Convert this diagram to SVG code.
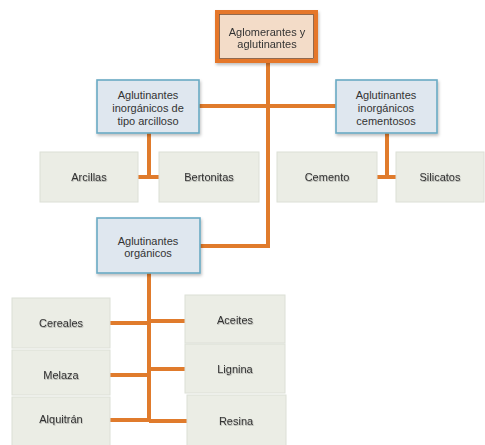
<svg xmlns="http://www.w3.org/2000/svg" width="485" height="445" viewBox="0 0 485 445">
  <defs>
    <filter id="shadow" x="-20%" y="-20%" width="140%" height="150%">
      <feDropShadow dx="1" dy="2" stdDeviation="1.5" flood-color="#000" flood-opacity="0.25"/>
    </filter>
    <filter id="textShadow" x="-10%" y="-30%" width="120%" height="160%">
      <feDropShadow dx="0.6" dy="1" stdDeviation="0.6" flood-color="#000" flood-opacity="0.25"/>
    </filter>
  </defs>
  <style>
    .conn { stroke: #e07b2c; stroke-width: 4; fill: none; stroke-linecap: butt; }
    .root { fill: #f3dcc8; stroke: #e5772c; stroke-width: 4; }
    .rootInner { fill: none; stroke: #7a4f32; stroke-width: 0.8; }
    .cat { fill: #dfe7ef; stroke: #6aaac4; stroke-width: 1.6; }
    .leaf { fill: #ebede5; stroke: #dcdfd6; stroke-width: 1; }
    text { font-family: "Liberation Sans", Arial, sans-serif; font-size: 11px; fill: #333333; text-anchor: middle; }
  </style>
  <rect width="485" height="445" fill="#ffffff"/>

  <g id="connectors">
    <!-- trunk from root down to the organic branch -->
    <path class="conn" d="M268 63 V246 H200"/>
    <!-- inorganic branches -->
    <path class="conn" d="M199 106 H336"/>
    <!-- clay-type children -->
    <path class="conn" d="M149 133 V177"/>
    <path class="conn" d="M138 177 H159"/>
    <!-- cement-type children -->
    <path class="conn" d="M387 133 V177"/>
    <path class="conn" d="M377 177 H396"/>
    <!-- organic children -->
    <path class="conn" d="M149 273 V421"/>
    <path class="conn" d="M110 323 H149"/>
    <path class="conn" d="M110 375 H149"/>
    <path class="conn" d="M110 420 H149"/>
    <path class="conn" d="M149 321 H185"/>
    <path class="conn" d="M149 369 H185"/>
    <path class="conn" d="M149 421 H187"/>
  </g>

  <g id="root" filter="url(#shadow)">
    <rect class="root" x="217" y="12" width="99" height="49"/>
    <rect class="rootInner" x="219.5" y="14.5" width="94" height="44"/>
    <text x="267" y="36">Aglomerantes y</text>
    <text x="267" y="48">aglutinantes</text>
  </g>

  <g id="arcilloso">
    <rect class="cat" x="97" y="80" width="102" height="53" filter="url(#shadow)"/>
    <text x="148" y="99">Aglutinantes</text>
    <text x="148" y="112">inorgánicos de</text>
    <text x="148" y="125">tipo arcilloso</text>
  </g>

  <g id="cementosos">
    <rect class="cat" x="336" y="80" width="101" height="53" filter="url(#shadow)"/>
    <text x="386" y="99">Aglutinantes</text>
    <text x="386" y="112">inorgánicos</text>
    <text x="386" y="125">cementosos</text>
  </g>

  <g id="organicos">
    <rect class="cat" x="97" y="218" width="103" height="55" filter="url(#shadow)"/>
    <text x="148" y="245">Aglutinantes</text>
    <text x="148" y="257">orgánicos</text>
  </g>

  <g id="arcillas">
    <rect class="leaf" x="40" y="152" width="98" height="50"/>
    <text x="89" y="181" filter="url(#textShadow)">Arcillas</text>
  </g>
  <g id="bertonitas">
    <rect class="leaf" x="159" y="152" width="100" height="50"/>
    <text x="209" y="181" filter="url(#textShadow)">Bertonitas</text>
  </g>
  <g id="cemento">
    <rect class="leaf" x="277" y="152" width="100" height="50"/>
    <text x="327" y="181" filter="url(#textShadow)">Cemento</text>
  </g>
  <g id="silicatos">
    <rect class="leaf" x="396" y="152" width="88" height="50"/>
    <text x="440" y="181" filter="url(#textShadow)">Silicatos</text>
  </g>

  <g id="cereales">
    <rect class="leaf" x="12" y="298" width="98" height="50"/>
    <text x="61" y="327" filter="url(#textShadow)">Cereales</text>
  </g>
  <g id="melaza">
    <rect class="leaf" x="12" y="350" width="98" height="45"/>
    <text x="61" y="379" filter="url(#textShadow)">Melaza</text>
  </g>
  <g id="alquitran">
    <rect class="leaf" x="12" y="397" width="98" height="50"/>
    <text x="61" y="423" filter="url(#textShadow)">Alquitrán</text>
  </g>
  <g id="aceites">
    <rect class="leaf" x="185" y="295" width="100" height="48"/>
    <text x="235" y="324" filter="url(#textShadow)">Aceites</text>
  </g>
  <g id="lignina">
    <rect class="leaf" x="185" y="344" width="100" height="49"/>
    <text x="235" y="373" filter="url(#textShadow)">Lignina</text>
  </g>
  <g id="resina">
    <rect class="leaf" x="187" y="395" width="99" height="52"/>
    <text x="236" y="425" filter="url(#textShadow)">Resina</text>
  </g>
</svg>
